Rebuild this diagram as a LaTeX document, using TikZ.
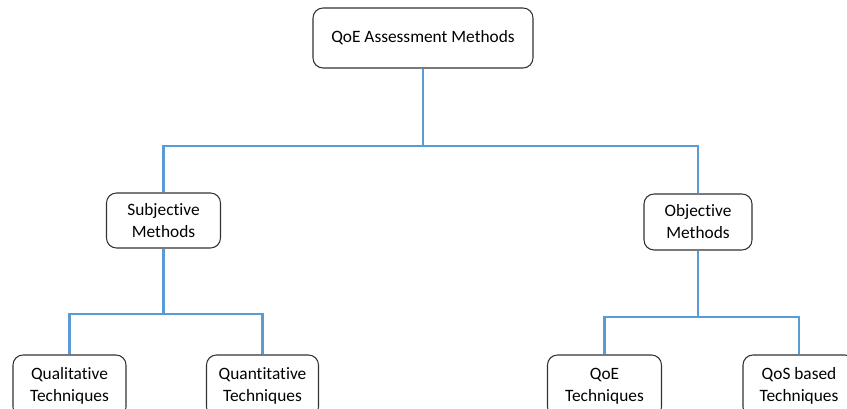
\documentclass[tikz,border=0pt]{standalone}
\usepackage{fontspec}
\setmainfont{Carlito}[RawFeature=-liga]
\begin{document}
\begin{tikzpicture}[x=0.75pt,y=-0.75pt,
  box/.style={draw=black!80,line width=0.8pt,rounded corners=7.5pt,fill=white,
    align=center,inner sep=0pt,font=\fontsize{13}{16.5}\selectfont},
  link/.style={draw={rgb,255:red,91;green,155;blue,213},line width=1.6pt}]
\useasboundingbox (0,0) rectangle (847,409);
\clip (0,0) rectangle (847,409);
% tree nodes
\node[box,minimum width=220*0.75pt,minimum height=60*0.75pt] (root) at (423,38) {QoE Assessment Methods};
\node[box,minimum width=114*0.75pt,minimum height=55*0.75pt] (subj) at (163.5,220.5) {Subjective\\Methods};
\node[box,minimum width=108*0.75pt,minimum height=56*0.75pt] (obj) at (698,222) {Objective\\Methods};
\node[box,minimum width=113*0.75pt,minimum height=62*0.75pt] (qual) at (69.5,386) {Qualitative\\Techniques};
\node[box,minimum width=112*0.75pt,minimum height=62*0.75pt] (quant) at (262.5,386) {Quantitative\\Techniques};
\node[box,minimum width=114*0.75pt,minimum height=62*0.75pt] (qoe) at (604.5,386) {QoE\\Techniques};
\node[box,minimum width=112*0.75pt,minimum height=62*0.75pt] (qos) at (799,386) {QoS based\\Techniques};
% bus levels
\coordinate (bus0) at (0,146);
\coordinate (busL) at (0,314);
\coordinate (busR) at (0,317);
% connectors
\draw[link] (root.south) -- (root.south |- bus0) -| (subj.north);
\draw[link] (root.south |- bus0) -| (obj.north);
\draw[link] (subj.south) -- (subj.south |- busL) -| (qual.north);
\draw[link] (subj.south |- busL) -| (quant.north);
\draw[link] (obj.south) -- (obj.south |- busR) -| (qoe.north);
\draw[link] (obj.south |- busR) -| (qos.north);
\end{tikzpicture}
\end{document}
